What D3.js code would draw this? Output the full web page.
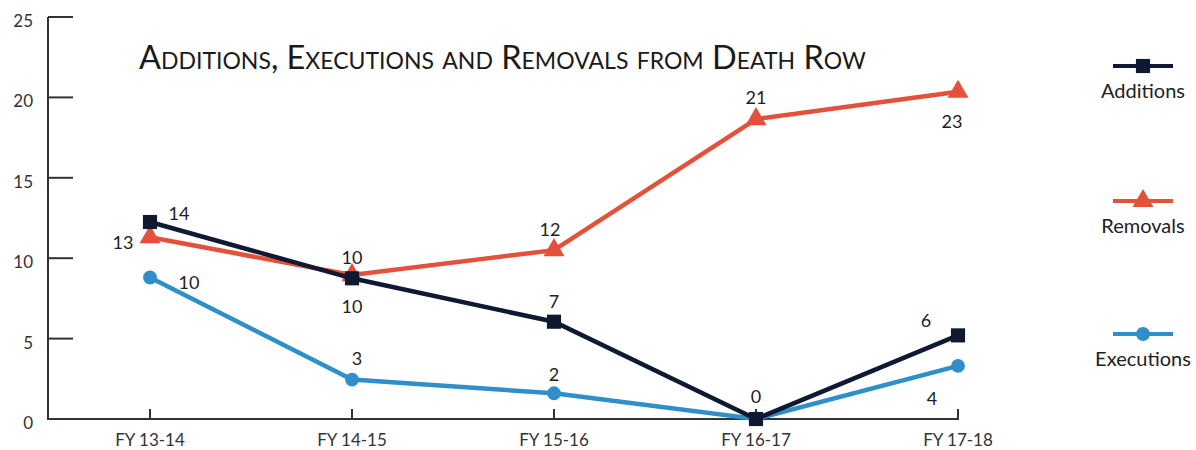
<!DOCTYPE html>
<meta charset="utf-8">
<style>
body { margin: 0; background: #fff; }
text { font-family: Lato, "Open Sans", sans-serif; fill: #222; }
.axis path, .axis line { stroke: #333; stroke-width: 2px; }
.axis text { font-size: 17px; fill: #333; }
.ylab { font-size: 18px; }
.title { font-size: 32.5px; font-variant: small-caps; fill: #1a1a1a; }
.lbl { font-size: 18px; }
.legend text { font-size: 20px; }
</style>
<body>
<svg width="1196" height="450"></svg>
<script src="https://cdn.jsdelivr.net/npm/d3@7"></script>
<script>
// categories
var years = ["FY 13-14", "FY 14-15", "FY 15-16", "FY 16-17", "FY 17-18"];

// plotted positions (as drawn in the picture)
var additions  = [12.25, 8.75, 6.05, 0, 5.2];
var removals   = [11.3, 8.95, 10.5, 18.65, 20.35];
var executions = [8.8, 2.45, 1.6, 0, 3.3];

// printed data labels
var additionsLabels  = [14, 10, 7, 0, 6];
var removalsLabels   = [13, 10, 12, 21, 23];
var executionsLabels = [10, 3, 2, "", 4];

var yTicks = [0, 5, 10, 15, 20, 25];

var svg = d3.select("svg");

var x = d3.scalePoint().domain(years).range([150, 958]);
var y = d3.scaleLinear().domain([0, 25]).range([419, 17]);

// y axis: line plus short ticks pointing right
var yAxis = svg.append("g").attr("class", "axis");
yAxis.append("line").attr("x1", 48).attr("x2", 48).attr("y1", y(25)).attr("y2", y(0));
yAxis.selectAll(".yt").data(yTicks).enter().append("line")
    .attr("x1", 48).attr("x2", 73)
    .attr("y1", function(d) { return y(d); })
    .attr("y2", function(d) { return y(d); });
yAxis.selectAll(".yl").data(yTicks).enter().append("text")
    .attr("class", "ylab")
    .attr("x", 33).attr("text-anchor", "end")
    .attr("y", function(d) { return y(d) + 10; })
    .text(function(d) { return d; });

// x axis: line plus ticks pointing up
var xAxis = svg.append("g").attr("class", "axis");
xAxis.append("line").attr("x1", 47).attr("x2", 959).attr("y1", y(0)).attr("y2", y(0));
xAxis.selectAll(".xt").data(years).enter().append("line")
    .attr("x1", function(d) { return x(d); })
    .attr("x2", function(d) { return x(d); })
    .attr("y1", y(0) - 10).attr("y2", y(0));
xAxis.selectAll(".xl").data(years).enter().append("text")
    .attr("x", function(d) { return x(d); })
    .attr("y", 446).attr("text-anchor", "middle")
    .text(function(d) { return d; });

svg.append("text").attr("class", "title")
    .attr("x", 139).attr("y", 69)
    .text("Additions, Executions and Removals from Death Row");

var series = [
  { name: "Removals", values: removals, labels: removalsLabels, color: "#e5503a", shape: d3.symbolTriangle, size: 190,
    place: [[-27, 6], [0, -17], [-4, -20], [0, -21], [-6, 30]] },
  { name: "Executions", values: executions, labels: executionsLabels, color: "#2e8fca", shape: d3.symbolCircle, size: 150,
    place: [[39, 6], [5, -21], [0, -18], [0, 0], [-26, 33]] },
  { name: "Additions", values: additions, labels: additionsLabels, color: "#0f1a32", shape: d3.symbolSquare, size: 200,
    place: [[29, -8], [0, 29], [0, -20], [0, -22], [-32, -14]] }
];

var line = d3.line()
    .x(function(d, i) { return x(years[i]); })
    .y(function(d) { return y(d); });

series.forEach(function(s) {
  var g = svg.append("g");
  g.append("path").datum(s.values)
      .attr("d", line)
      .attr("fill", "none")
      .attr("stroke", s.color)
      .attr("stroke-width", 4.5);
  g.selectAll("path.m").data(s.values).enter().append("path")
      .attr("class", "m")
      .attr("d", d3.symbol().type(s.shape).size(s.size))
      .attr("fill", s.color)
      .attr("transform", function(d, i) { return "translate(" + x(years[i]) + "," + y(d) + ")"; });
  g.selectAll("text").data(s.values).enter().append("text")
      .attr("class", "lbl")
      .attr("text-anchor", "middle")
      .attr("x", function(d, i) { return x(years[i]) + s.place[i][0]; })
      .attr("y", function(d, i) { return y(d) + s.place[i][1] + 6; })
      .text(function(d, i) { return s.labels[i]; });
});

// legend
var legendY = { "Additions": 66, "Removals": 201, "Executions": 334 };
var legend = svg.append("g").attr("class", "legend");
series.forEach(function(s) {
  var ly = legendY[s.name];
  legend.append("line")
      .attr("x1", 1113).attr("x2", 1173).attr("y1", ly).attr("y2", ly)
      .attr("stroke", s.color).attr("stroke-width", 4);
  legend.append("path")
      .attr("d", d3.symbol().type(s.shape).size(s.size))
      .attr("fill", s.color)
      .attr("transform", "translate(1143," + ly + ")");
  legend.append("text")
      .attr("x", 1143).attr("y", ly + 32)
      .attr("text-anchor", "middle")
      .text(s.name);
});
</script>
</body>
